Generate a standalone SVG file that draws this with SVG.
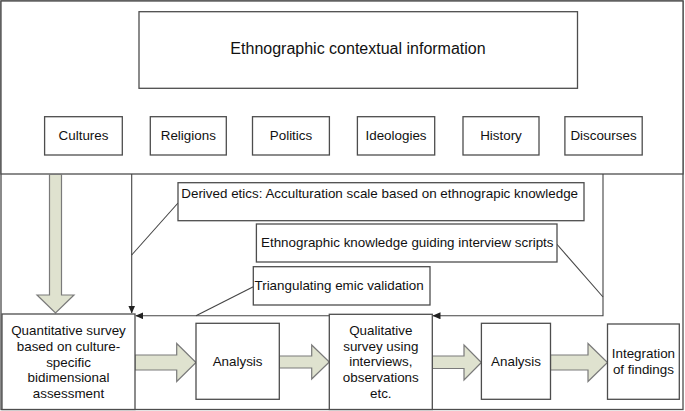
<svg xmlns="http://www.w3.org/2000/svg" width="685" height="411" viewBox="0 0 685 411">
<style>
.box{fill:#fff;stroke:#4d4d4d;stroke-width:1.3}
.frame{fill:none;stroke:#4d4d4d;stroke-width:1.3}
.blk{fill:#dfe2cf;stroke:#7a7a7a;stroke-width:1.2}
.ln{fill:none;stroke:#444;stroke-width:1.1}
text{font-family:"Liberation Sans",Arial,sans-serif;font-size:13.4px;fill:#111}
.c{text-anchor:middle}
.t{font-size:16px}
</style>
<defs>
<marker id="ah" markerWidth="8" markerHeight="7" refX="7.5" refY="3.5" orient="auto" markerUnits="userSpaceOnUse">
<path d="M0,0 L8,3.5 L0,7 Z" fill="#222"/>
</marker>
</defs>
<rect x="0" y="0" width="685" height="411" fill="#fff"/>
<rect class="frame" x="1" y="1" width="682" height="408.5"/>
<g id="context">
<rect class="box" x="1" y="1" width="682" height="173"/>
</g>
<g id="title">
<rect class="box" x="139" y="11.7" width="438.5" height="76.6"/>
<text class="c t" x="358" y="53.8">Ethnographic contextual information</text>
</g>
<g id="cultures"><rect class="box" x="44.6" y="116.7" width="77.7" height="38.3"/><text class="c" x="83.5" y="139.7">Cultures</text></g>
<g id="religions"><rect class="box" x="150.3" y="116.7" width="76" height="38.3"/><text class="c" x="188.3" y="139.7">Religions</text></g>
<g id="politics"><rect class="box" x="252.5" y="116.7" width="76.9" height="38.3"/><text class="c" x="291" y="139.7">Politics</text></g>
<g id="ideologies"><rect class="box" x="357.4" y="116.7" width="77.3" height="38.3"/><text class="c" x="396" y="139.7">Ideologies</text></g>
<g id="history"><rect class="box" x="463" y="116.7" width="76" height="38.3"/><text class="c" x="501" y="139.7">History</text></g>
<g id="discourses"><rect class="box" x="564.9" y="116.7" width="77.3" height="38.3"/><text class="c" x="603.5" y="139.7">Discourses</text></g>

<g id="connectors">
<polygon class="blk" points="49.5,174.5 61.5,174.5 61.5,295 74,295 55.5,313 37,295 49.5,295"/>
<polygon class="blk" points="135,355 176.7,355 176.7,343.5 196,362.5 176.7,381.5 176.7,370 135,370"/>
<polygon class="blk" points="279.3,356 311.7,356 311.7,345 329.3,362 311.7,379 311.7,368 279.3,368"/>
<polygon class="blk" points="432.3,356 464,356 464,345 481.4,362.5 464,380 464,368.5 432.3,368.5"/>
<polygon class="blk" points="550.5,355 588,355 588,343.5 607.5,362.5 588,381.5 588,370 550.5,370"/>
<path class="ln" d="M131.7,174 V313" marker-end="url(#ah)"/>
<path class="ln" d="M131.7,255 L178,203"/>
<path class="ln" d="M603,174 V315.8 H433" marker-end="url(#ah)"/>
<path class="ln" d="M556.7,244 L603,297"/>
<path class="ln" d="M329.3,315.8 H135.8" marker-end="url(#ah)"/>
<path class="ln" d="M253.3,286.7 L196,315.8"/>
</g>

<g id="derived">
<rect class="box" x="178" y="182.7" width="406" height="38"/>
<text x="181.3" y="197.7">Derived etics: Acculturation scale based on ethnograpic knowledge</text>
</g>
<g id="guiding">
<rect class="box" x="256.4" y="224" width="300.6" height="38"/>
<text x="261" y="247.4">Ethnographic knowledge guiding interview scripts</text>
</g>
<g id="triangulating">
<rect class="box" x="253.3" y="266.7" width="176.7" height="38.3"/>
<text x="254.5" y="289.7">Triangulating emic validation</text>
</g>

<g id="quantitative">
<rect class="box" x="2" y="314" width="133" height="95.5"/>
<text class="c" x="68.5" y="335">Quantitative survey</text>
<text class="c" x="68.5" y="350.8">based on culture-</text>
<text class="c" x="68.5" y="366.6">specific</text>
<text class="c" x="68.5" y="382.4">bidimensional</text>
<text class="c" x="68.5" y="398.2">assessment</text>
</g>
<g id="analysis1">
<rect class="box" x="196" y="323.3" width="83.3" height="76"/>
<text class="c" x="237.6" y="365.8">Analysis</text>
</g>
<g id="qualitative">
<rect class="box" x="329.3" y="314.3" width="103" height="95.2"/>
<text class="c" x="380.8" y="334.8">Qualitative</text>
<text class="c" x="380.8" y="350.5">survey using</text>
<text class="c" x="380.8" y="366.2">interviews,</text>
<text class="c" x="380.8" y="382">observations</text>
<text class="c" x="380.8" y="398">etc.</text>
</g>
<g id="analysis2">
<rect class="box" x="481.4" y="323.3" width="69.1" height="76"/>
<text class="c" x="516" y="366.4">Analysis</text>
</g>
<g id="integration">
<rect class="box" x="607.5" y="324" width="71.8" height="75.3"/>
<text class="c" x="643.4" y="357.8">Integration</text>
<text class="c" x="643.4" y="374">of findings</text>
</g>
</svg>
